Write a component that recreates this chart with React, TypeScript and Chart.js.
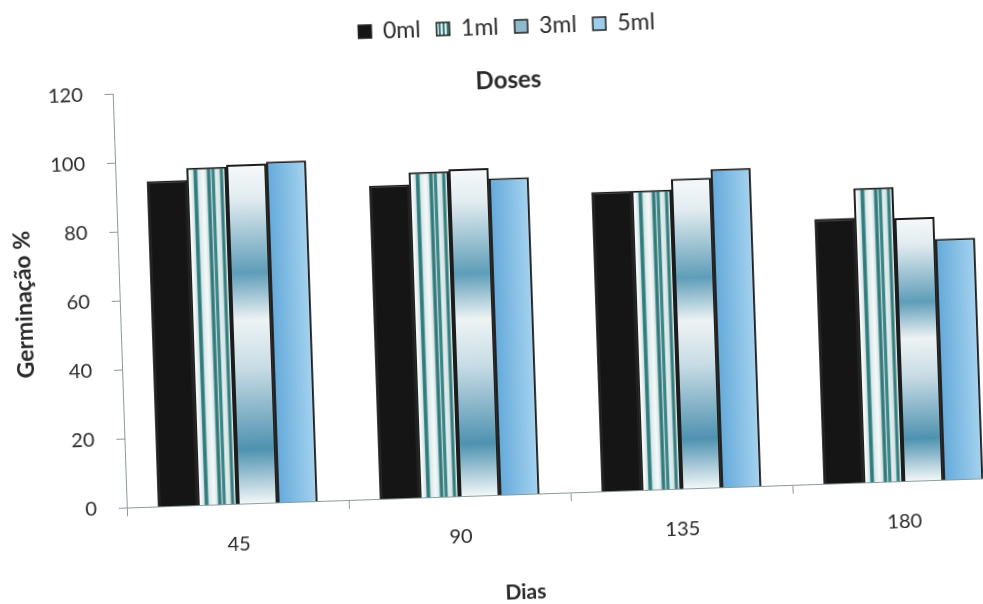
import React, { useEffect, useRef } from 'react';
import { Chart, registerables } from 'chart.js';

Chart.register(...registerables);

// Germination (%) per storage time (days) and dose
const dias = ['45', '90', '135', '180'];
const doses = ['0ml', '1ml', '3ml', '5ml'];
const dose0ml = [94.5, 91, 87, 77];
const dose1ml = [98, 94.5, 87, 85.5];
const dose3ml = [98.5, 95, 90, 76.5];
const dose5ml = [99, 92, 92.5, 70];
const seriesValues = [dose0ml, dose1ml, dose3ml, dose5ml];

const FONT = 'Lato, "Open Sans", "DejaVu Sans", sans-serif';
const AXIS_GREY = '#8a9a9c';
const TEXT = '#2a2a2a';

// Fill for one bar, built from its pixel box so stripes/bands follow the bar
function barFill(ctx: CanvasRenderingContext2D, series: number, left: number, top: number, width: number, bottom: number) {
  if (series === 0) return '#151515';
  if (series === 1) {
    const g = ctx.createLinearGradient(left, 0, left + width, 0);
    const stops: [number, string][] = [
      [0, '#dfe9ea'], [0.08, '#f7fafa'], [0.16, '#d5e4e5'], [0.19, '#2f7c7d'], [0.25, '#2f7c7d'], [0.29, '#dbe8e9'],
      [0.42, '#f5f9f9'], [0.5, '#cfe0e1'], [0.52, '#367f80'], [0.58, '#2c7677'], [0.61, '#c9dcdd'], [0.64, '#3b8586'],
      [0.69, '#3b8586'], [0.72, '#e7f0f0'], [0.82, '#d0e1e2'], [0.85, '#357e7f'], [0.9, '#357e7f'], [0.93, '#e3eded'], [1, '#c3d9dc'],
    ];
    stops.forEach(([o, c]) => g.addColorStop(o, c));
    return g;
  }
  if (series === 2) {
    const g = ctx.createLinearGradient(0, top, 0, bottom);
    const stops: [number, string][] = [
      [0, '#f6f9fa'], [0.1, '#e2ecf0'], [0.32, '#5e9db8'], [0.46, '#eef3f4'], [0.6, '#c8dce5'], [0.84, '#4e92b0'], [1, '#f3f7f8'],
    ];
    stops.forEach(([o, c]) => g.addColorStop(o, c));
    return g;
  }
  const g = ctx.createLinearGradient(left, 0, left + width, 0);
  g.addColorStop(0, '#63a9da');
  g.addColorStop(1, '#a6d3ef');
  return g;
}

const barFillPlugin = {
  id: 'barFills',
  beforeDatasetsDraw(chart: any) {
    const ctx = chart.ctx;
    chart.data.datasets.forEach((_: any, di: number) => {
      chart.getDatasetMeta(di).data.forEach((el: any) => {
        const { x, y, base, width } = el.getProps(['x', 'y', 'base', 'width'], true);
        el.options.backgroundColor = barFill(ctx, di, x - width / 2, y, width, base);
      });
    });
  },
};

function legendSwatches(): (string | CanvasPattern)[] {
  const tile = document.createElement('canvas');
  tile.width = 4;
  tile.height = 4;
  const t = tile.getContext('2d')!;
  t.fillStyle = '#e6eeee';
  t.fillRect(0, 0, 4, 4);
  t.fillStyle = '#3a7c7d';
  t.fillRect(0, 0, 2, 4);
  const stripes = t.createPattern(tile, 'repeat')!;
  return ['#151515', stripes, '#8fbace', '#9ccdeb'];
}

export default function App() {
  const canvasRef = useRef<HTMLCanvasElement | null>(null);

  useEffect(() => {
    const canvas = canvasRef.current;
    if (!canvas) return;
    const swatches = legendSwatches();

    const chart = new Chart(canvas, {
      type: 'bar',
      data: {
        labels: dias,
        datasets: doses.map((d, i) => ({
          label: d,
          data: seriesValues[i],
          backgroundColor: () => '#888888',
          borderColor: '#1c1c1c',
          borderWidth: 2,
          barPercentage: 1,
          categoryPercentage: 0.72,
          yAxisID: 'y',
        })),
      },
      options: {
        responsive: false,
        animation: false,
        devicePixelRatio: 1,
        layout: { padding: { left: 0, right: 0, top: 0, bottom: 0 } },
        plugins: {
          legend: {
            position: 'top',
            weight: 1000,
            labels: {
              font: { family: FONT, size: 23 },
              color: TEXT,
              boxWidth: 13,
              boxHeight: 13,
              padding: 16,
              generateLabels: () =>
                doses.map((d, i) => ({
                  text: d,
                  fillStyle: swatches[i] as any,
                  strokeStyle: '#222',
                  lineWidth: 1.5,
                  hidden: false,
                  datasetIndex: i,
                  fontColor: TEXT,
                })),
            },
          },
          title: {
            display: true,
            text: 'Doses',
            weight: 500,
            color: TEXT,
            font: { family: FONT, size: 24, weight: 'bold' },
            padding: { top: 18, bottom: -14 },
          },
          subtitle: {
            display: true,
            position: 'bottom',
            text: 'Dias',
            color: TEXT,
            font: { family: FONT, size: 21, weight: 'bold' },
            padding: { top: 0, bottom: 4 },
          },
          tooltip: { enabled: false },
        },
        scales: {
          x: {
            grid: { display: true, drawOnChartArea: false, drawTicks: true, tickLength: 8, color: AXIS_GREY },
            border: { display: true, color: AXIS_GREY, width: 1 },
            ticks: { color: TEXT, font: { family: FONT, size: 20 }, padding: 20 },
            afterFit: (scale: any) => {
              scale.height = 85;
            },
          },
          y: {
            min: 0,
            max: 120,
            ticks: { stepSize: 20, color: TEXT, font: { family: FONT, size: 20 }, padding: 22 },
            grid: { display: true, drawOnChartArea: false, drawTicks: true, tickLength: 8, color: AXIS_GREY },
            border: { display: true, color: AXIS_GREY, width: 1 },
            title: {
              display: true,
              text: 'Germinação %',
              color: TEXT,
              font: { family: FONT, size: 23, weight: 'bold' },
              padding: { top: 11, bottom: 0 },
            },
            afterFit: (scale: any) => {
              scale.width = 120;
            },
          },
          // empty right-hand box: keeps the plot's right edge inside the page width
          spacer: {
            type: 'linear',
            position: 'right',
            grid: { display: false },
            border: { display: false },
            ticks: { display: false },
            afterFit: (scale: any) => {
              scale.width = 24;
            },
          },
        },
      },
      plugins: [barFillPlugin],
    });

    return () => chart.destroy();
  }, []);

  return (
    <div style={{ position: 'fixed', left: 0, top: 0, width: 983, height: 604, overflow: 'hidden', background: '#ffffff' }}>
      <div
        style={{
          position: 'absolute',
          left: 0,
          top: 0,
          width: 1032,
          height: 610,
          transform: 'rotate(-1.95deg)',
          transformOrigin: '491px 302px',
        }}
      >
        <canvas ref={canvasRef} width={1032} height={610} style={{ width: 1032, height: 610, display: 'block' }} />
      </div>
    </div>
  );
}
